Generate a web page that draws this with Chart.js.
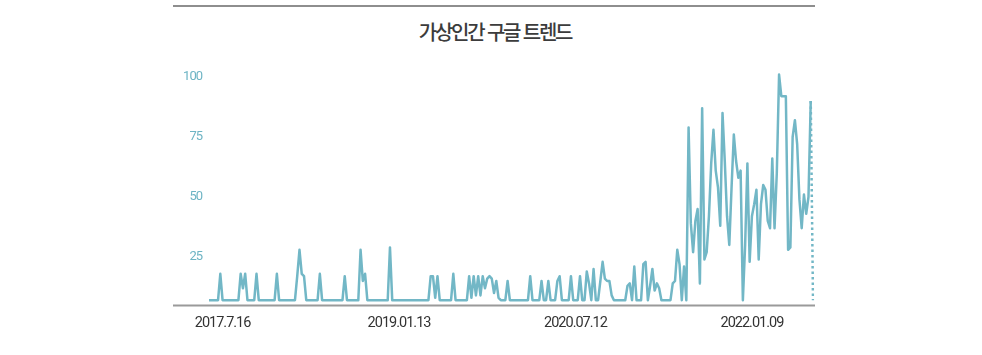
<!DOCTYPE html>
<html lang="ko">
<head>
<meta charset="utf-8">
<title>가상인간 구글 트렌드</title>
<script src="https://cdn.jsdelivr.net/npm/chart.js@4.4.1/dist/chart.umd.min.js"></script>
<style>
  html, body { margin: 0; padding: 0; background: #fff; }
  body { width: 982px; height: 355px; position: relative; overflow: hidden; }
  #frame { position: absolute; left: 173px; top: 0; width: 642px; height: 355px; }
  #frame .rule { position: absolute; left: 0; right: 0; top: 5px; height: 2px; background: #8e8e8e; }
  #frame h1 {
    position: absolute; left: 0; right: 0; top: 22px; margin: 0;
    text-align: center; padding-left: 2px;
    font: 500 20px/20px "Noto Sans CJK KR", sans-serif;
    letter-spacing: -2.2px; color: #3c3c3c;
  }
  #trend-chart { position: absolute; left: 0; top: 0; }
</style>
</head>
<body>
<div id="frame">
  <div class="rule"></div>
  <h1>가상인간 구글 트렌드</h1>
  <canvas id="trend-chart" width="642" height="355"></canvas>
</div>
<script>
// weekly Google Trends interest (first week = 2017-06-04)
const START_WEEK = '2017-06-04';

const interest2017 = [7,7,7,7,7, 18, 7,7,7,7,7,7,7,7, 18,12,18, 7,7,7,7, 18,
                      7,7,7,7,7,7,7,7, 18, 7,7,7,7,7,7,7,7, 17,28,18,17,
                      7,7,7,7,7,7, 18, 7,7,7,7];
const interest2018 = [7,7,7,7,7,7, 17, 7,7,7,7,7,7, 28,15,18, 7,7,7,7,7,7,7,7,7,7,
                      29, 7,7,7,7,7,7,7,7,7,7,7,7,7,7,7,7,7, 17,17,8,17, 7,7,7,7,7,7];
const interest2020 = [18, 7,7,7,7,7,7, 17,8,17,9,17,9,17,12,16,17,16,10,15,8,
                      7,7,7, 15, 7,7,7,7,7,7,7,7,7, 17, 7,7,7,7, 15, 7,7, 15,
                      7,7,7, 15,17, 7,7,7,7, 17, 7];
const interest2021 = [7,7, 17, 7,7, 19,14,7,20,7,7,15,23,16,15,15,9, 7,7,7,7,7,7,
                      13,14,7,21,7,7,7,22,23,7,13,20,11,14,12, 7,7,7,7,7,
                      14,15,28,22,7,21,7,79,39,27,40];
const interest2022 = [45,14,87,24,27,42,64,78,61,54, 38,85,65,42,30,54,76,65,58,61,
                      7,30,64,23,42,47,53,24,47,55, 53,40,37,66,37,60,101,92,92,92,
                      28,29,75,82,72,49,37,51,43,50, 90,7];

const interest = [...interest2017, ...interest2018, ...interest2020, ...interest2021, ...interest2022];

const xTickIndex = [6, 84, 162, 240];
const xTickText  = ['2017.7.16', '2019.01.13', '2020.07.12', '2022.01.09'];
const yTicks     = [25, 50, 75, 100];

const weeks = [];
const d0 = new Date(START_WEEK + 'T00:00:00Z');
for (let i = 0; i < interest.length; i++) {
    weeks.push(new Date(d0.getTime() + i * 7 * 864e5).toISOString().slice(0, 10));
}

const LINE_COLOR = '#72b7c6';
const lastIdx = interest.length - 1;

// tight digit spacing + baseline rule across the whole frame width
const frameLines = {
    id: 'frameLines',
    beforeDraw(chart) { chart.ctx.letterSpacing = '-1px'; },
    afterDatasetsDraw(chart) {
        const { ctx, chartArea } = chart;
        ctx.save();
        ctx.strokeStyle = '#9a9a9a';
        ctx.lineWidth = 2;
        ctx.beginPath();
        ctx.moveTo(0, chartArea.bottom + 0.5);
        ctx.lineTo(chart.width, chartArea.bottom + 0.5);
        ctx.stroke();
        ctx.restore();
    }
};

new Chart(document.getElementById('trend-chart').getContext('2d'), {
    type: 'line',
    data: {
        labels: weeks,
        datasets: [{
            label: '가상인간',
            data: interest,
            borderColor: LINE_COLOR,
            borderWidth: 2.5,
            borderJoinStyle: 'round',
            pointRadius: 0,
            tension: 0,
            fill: false,
            segment: {
                borderDash: c => c.p1DataIndex === lastIdx ? [2.5, 3] : undefined,
            },
        }],
    },
    options: {
        responsive: false,
        animation: false,
        layout: { padding: { top: 65, right: 2, bottom: 0, left: 0 } },
        plugins: {
            legend: { display: false },
            tooltip: { enabled: false },
            title: { display: false },
        },
        scales: {
            x: {
                grid:   { display: false, drawTicks: false },
                border: { display: false },
                afterBuildTicks: s => { s.ticks = xTickIndex.map(v => ({ value: v })); },
                afterFit: s => { s.height = 50; },
                ticks: {
                    autoSkip: false,
                    maxRotation: 0,
                    padding: 10,
                    color: '#333',
                    font: { family: 'Roboto', size: 14.5 },
                    callback: v => xTickText[xTickIndex.indexOf(v)],
                },
            },
            y: {
                min: 5,
                max: 105,
                grid:   { display: false, drawTicks: false },
                border: { display: false },
                afterBuildTicks: s => { s.ticks = yTicks.map(v => ({ value: v })); },
                afterFit: s => { s.width = 36; },
                ticks: {
                    padding: 7,
                    color: '#6db4c4',
                    font: { family: 'Roboto', size: 13 },
                },
            },
        },
    },
    plugins: [frameLines],
});
</script>
</body>
</html>
